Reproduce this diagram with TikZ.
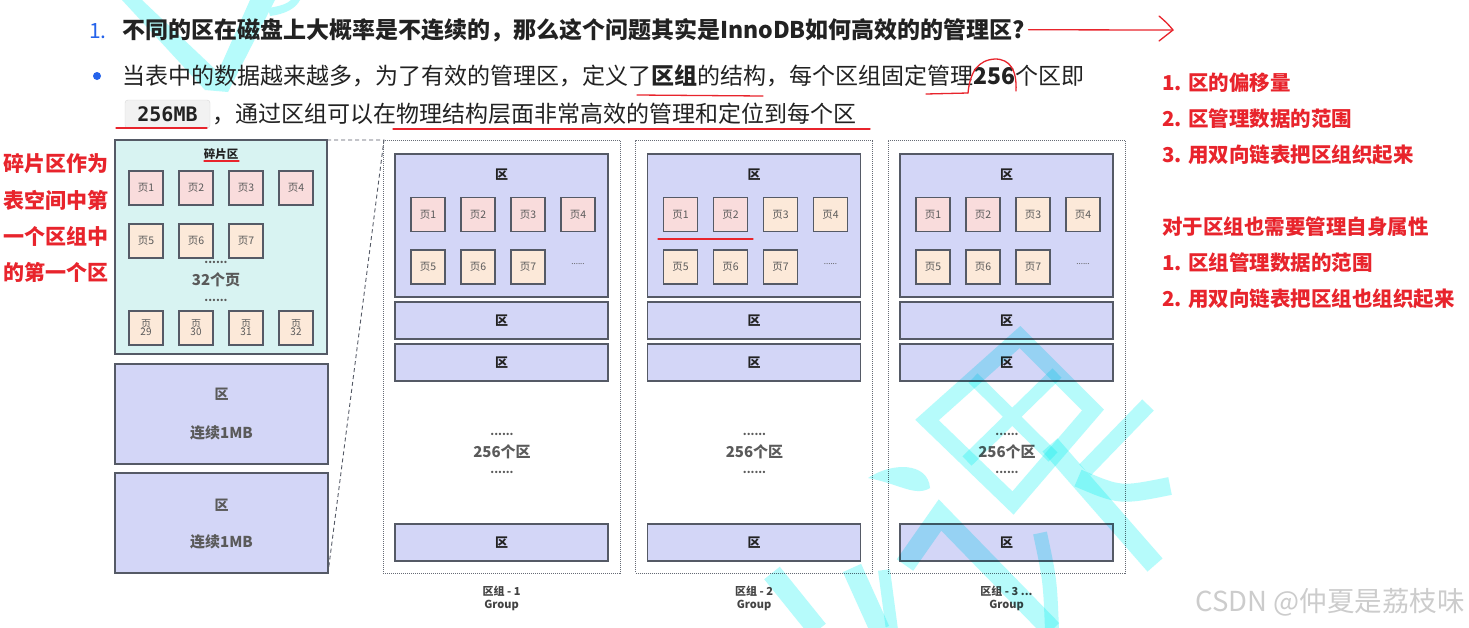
\documentclass[tikz,border=0pt]{standalone}
\usepackage{fontspec}
\setmainfont{Noto Sans CJK SC}
\setmonofont{DejaVu Sans Mono}
\definecolor{lav}{HTML}{D3D6F7}
\definecolor{fragbg}{HTML}{D8F3F2}
\definecolor{pinkpg}{HTML}{F9DCDC}
\definecolor{peachpg}{HTML}{FCE9D9}
\definecolor{edge}{HTML}{555A66}
\definecolor{ink}{HTML}{222222}
\definecolor{mark}{HTML}{E8242C}
\definecolor{blu}{HTML}{2563EB}
\definecolor{gtxt}{HTML}{5A5A5A}
\definecolor{wm}{HTML}{B6FBFB}
\definecolor{codebg}{HTML}{F2F2F2}
\newcommand\fsz[1]{\fontsize{#1}{#1}\selectfont}
\begin{document}
\begin{tikzpicture}[x=1pt,y=-1pt,
  box/.style={draw=edge, line width=1.1pt, inner sep=0pt, outer sep=0pt},
  zone/.style={box, fill=lav},
  pg/.style={box, minimum width=34pt, minimum height=34pt, font=\fsz{10.5}, text=gtxt, align=center},
  zl/.style={font=\fsz{13}\bfseries, text=ink},
  midtxt/.style={font=\fsz{15}\bfseries, text=gtxt},
  dots/.style={font=\fsz{11}\bfseries, text=gtxt, inner sep=0pt},
  glab/.style={font=\fsz{11}\bfseries, text=ink!85, align=center, inner sep=0pt},
  redtxt/.style={font=\fsz{20.5}\bfseries, text=mark, anchor=base west, inner sep=0pt},
  lefttxt/.style={font=\fsz{21}\bfseries, text=mark, inner sep=0pt},
  body/.style={font=\fsz{23}, text=ink, anchor=base west, inner sep=0pt},
  anno/.style={draw=mark, line width=1.3pt, line cap=round},
  grp/.style={draw=edge!90, dash pattern=on 1pt off 1pt, line width=0.8pt, inner sep=0pt, minimum width=237pt, minimum height=433pt},
  wms/.style={draw=wm, line cap=butt, line join=miter},
]
\useasboundingbox (0,0) rectangle (1469,627);
\fill[white] (0,0) rectangle (1469,627);

% top-left watermark fragment (under the text)
\fill[wm] (122,0) -- (142,0) -- (218,72) -- (250,0) -- (275,0) -- (228,92) -- (205,90) -- cycle;
\fill[wm] (268,8) .. controls (282,6) and (288,3) .. (291,0) -- (300,0) .. controls (296,8) and (286,14) .. (270,16) -- cycle;

% ---------- header text ----------
\node[font=\fsz{21}, text=blu, anchor=base west, inner sep=0pt] (n1) at (89,38) {1.};
\node[body, font=\fsz{23}\bfseries] (q1) at (122,38) {不同的区在磁盘上大概率是不连续的，那么这个问题其实是InnoDB如何高效的的管理区?};
\node[circle, fill=blu, inner sep=0pt, minimum size=8pt] (bul) at (97,76) {};
\node[body] (l2) at (122,84) {当表中的数据越来越多，为了有效的管理区，定义了\textbf{区组}的结构，每个区组固定管理\textbf{256}个区即};
\node[draw=gray!30, fill=codebg, rounded corners=3pt, minimum width=85pt, minimum height=28pt, inner sep=0pt, font=\fsz{20}\ttfamily\bfseries, text=ink] (code) at (167.5,114) {256MB};
\node[body] (l3) at (212,122) {，通过区组可以在物理结构层面非常高效的管理和定位到每个区};

% red annotations in header
\coordinate (tip) at (1172,30);
\draw[anno] (q1.east) ++(3,0) -- (tip);
\draw[anno] (1159,16) .. controls (1167,23) .. (1173,30) .. controls (1166,35) .. (1159,41);
\draw[anno] (637,95) -- (763,96);
\draw[anno] (926,94) -- (968,93);
\draw[anno] (968,93) .. controls (970,72) and (978,60) .. (995,59) .. controls (1010,59) and (1017,70) .. (1016,91);
\draw[anno] (116,128) -- (207,128);
\draw[anno] (393,129) -- (870,129);

% right red notes
\node[redtxt] (r1) at (1162,90) {1. 区的偏移量};
\node[redtxt] (r2) at (1162,126) {2. 区管理数据的范围};
\node[redtxt] (r3) at (1162,162) {3. 用双向链表把区组织起来};
\node[redtxt] (r4) at (1162,234) {对于区组也需要管理自身属性};
\node[redtxt] (r5) at (1162,270) {1. 区组管理数据的范围};
\node[redtxt] (r6) at (1162,306) {2. 用双向链表把区组也组织起来};

% left red notes
\node[lefttxt] (t1) at (56,164) {碎片区作为};
\node[lefttxt] (t2) at (56,200) {表空间中第};
\node[lefttxt] (t3) at (56,236) {一个区组中};
\node[lefttxt] (t4) at (56,272) {的第一个区};

% ---------- left panel ----------
\node[box, fill=fragbg, minimum width=212pt, minimum height=214pt] (frag) at (221,247) {};
\node[font=\fsz{11.5}\bfseries, text=ink, inner sep=0pt] (fragt) at (221,154) {碎片区};
\draw[anno, line width=1.1pt] (204,161) -- (239,161);
\node[pg, fill=pinkpg] (fp1) at (146,188) {页1};
\node[pg, fill=pinkpg] (fp2) at (196,188) {页2};
\node[pg, fill=pinkpg] (fp3) at (246,188) {页3};
\node[pg, fill=pinkpg] (fp4) at (296,188) {页4};
\node[pg, fill=peachpg] (fp5) at (146,241) {页5};
\node[pg, fill=peachpg] (fp6) at (196,241) {页6};
\node[pg, fill=peachpg] (fp7) at (246,241) {页7};
\node[dots] (fd1) at (216,262) {......};
\node[midtxt, inner sep=0pt] (f32) at (216,280) {32个页};
\node[dots] (fd2) at (216,300) {......};
\node[pg, fill=peachpg, font=\fsz{10}] (fp29) at (146,328) {页\\[-2pt]29};
\node[pg, fill=peachpg, font=\fsz{10}] (fp30) at (196,328) {页\\[-2pt]30};
\node[pg, fill=peachpg, font=\fsz{10}] (fp31) at (246,328) {页\\[-2pt]31};
\node[pg, fill=peachpg, font=\fsz{10}] (fp32) at (296,328) {页\\[-2pt]32};

\node[zone, minimum width=213pt, minimum height=100pt] (ext1) at (221.5,414) {};
\node[midtxt, font=\fsz{14}\bfseries] (ext1a) at (221.5,394) {区};
\node[midtxt] (ext1b) at (221.5,433) {连续1MB};
\node[zone, minimum width=213pt, minimum height=100pt] (ext2) at (221.5,523) {};
\node[midtxt, font=\fsz{14}\bfseries] (ext2a) at (221.5,505) {区};
\node[midtxt] (ext2b) at (221.5,542) {连续1MB};

\coordinate (apex) at (384,140);
\draw[draw=edge, line width=0.9pt, dash pattern=on 4pt off 3pt] (frag.north east) -- (apex) -- (ext2.south east);

% ---------- groups ----------
\foreach \g/\xo/\fa/\lab in {1/383/pinkpg/{区组 - 1}, 2/635.5/peachpg/{区组 - 2}, 3/888/peachpg/{区组 - 3 ...}} {
  \node[grp] (g\g) at (\xo+118.5,356.5) {};
  \node[zone, minimum width=213pt, minimum height=143pt] (g\g-big) at (\xo+118.5,225.5) {};
  \node[zl] (g\g-bigl) at (\xo+118.5,175) {区};
  \node[pg, fill=pinkpg] (g\g-p1) at (\xo+45,214.5) {页1};
  \node[pg, fill=pinkpg] (g\g-p2) at (\xo+95,214.5) {页2};
  \node[pg, fill=\fa] (g\g-p3) at (\xo+145,214.5) {页3};
  \node[pg, fill=\fa] (g\g-p4) at (\xo+195,214.5) {页4};
  \node[pg, fill=peachpg] (g\g-p5) at (\xo+45,267) {页5};
  \node[pg, fill=peachpg] (g\g-p6) at (\xo+95,267) {页6};
  \node[pg, fill=peachpg] (g\g-p7) at (\xo+145,267) {页7};
  \node[font=\fsz{8}, text=gtxt, inner sep=0pt] (g\g-pd) at (\xo+195,264) {......};
  \node[zone, minimum width=213pt, minimum height=37pt] (g\g-z2) at (\xo+118.5,320.5) {};
  \node[zl] (g\g-z2l) at (\xo+118.5,320.5) {区};
  \node[zone, minimum width=213pt, minimum height=37pt] (g\g-z3) at (\xo+118.5,362.5) {};
  \node[zl] (g\g-z3l) at (\xo+118.5,362.5) {区};
  \node[dots] (g\g-d1) at (\xo+119,434) {......};
  \node[midtxt] (g\g-m) at (\xo+119,452) {256个区};
  \node[dots] (g\g-d2) at (\xo+119,472) {......};
  \node[zone, minimum width=213pt, minimum height=37pt] (g\g-zn) at (\xo+118.5,542.5) {};
  \node[zl] (g\g-znl) at (\xo+118.5,542.5) {区};
  \node[glab] (g\g-lab) at (\xo+118.5,591) {\lab};
  \node[glab] (g\g-grp) at (\xo+118.5,605) {Group};
}
\draw[anno, line width=1.1pt] (658,239) -- (753,239);

% ---------- watermarks ----------
\node[anchor=base east, font=\fsz{27.5}, text=gray!40, inner sep=0pt] (csdn) at (1465,611) {CSDN @仲夏是荔枝味};

\begin{scope}[blend mode=multiply]
\clip (0,0) rectangle (1469,627);
\draw[wms, line width=16pt] (927,420) -- (1020,337) -- (1093,410) -- (1013,503) -- cycle;
\draw[wms, line width=13pt] (973,378) -- (1053,457) (967,461) -- (1057,373);
\draw[wms, line width=20pt] (1050,445) -- (1155,565);
\draw[wms, line width=18pt] (1078,478) .. controls (1120,496) .. (1170,486);
\draw[wms, line width=16pt] (1148,405) -- (1085,470);
\draw[wms, line width=20pt] (905,565) -- (940,515) -- (1052,630);
\draw[wms, line width=14pt] (1040,533) .. controls (1050,580) .. (1052,630);
\fill[wm] (868,478) .. controls (892,462) and (928,462) .. (930,488) .. controls (915,497) and (900,484) .. (868,478) -- cycle;
\draw[wms, line width=20pt] (772,573) -- (818,630);
\draw[wms, line width=20pt] (852,568) -- (880,630);
\draw[wms, line width=12pt] (884,570) -- (892,630);
\end{scope}
\end{tikzpicture}
\end{document}
